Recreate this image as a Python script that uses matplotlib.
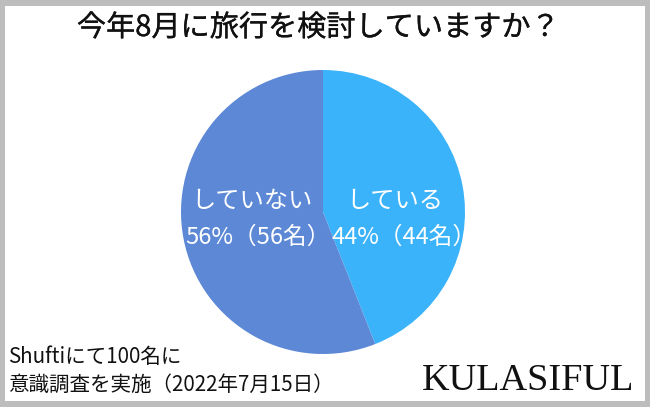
import matplotlib.pyplot as plt
import matplotlib.patheffects as pe
from matplotlib.patches import Rectangle

plt.rcParams['font.family'] = ['Noto Sans CJK JP', 'DejaVu Sans']

title = '今年8月に旅行を検討していますか？'
labels = ['している', 'していない']
values = [44, 56]
colors = ['#3bb3fa', '#5c88d6']
note = 'Shuftiにて100名に\n意識調査を実施（2022年7月15日）'
brand = 'KULASIFUL'

W, H = 650, 407
fig = plt.figure(figsize=(W / 100, H / 100), dpi=100)
fig.patch.set_facecolor('#bdbdbd')
ax = fig.add_axes([0, 0, 1, 1])

# white card inside grey frame
ax.add_patch(Rectangle((5, 6), W - 10, H - 12, facecolor='white', edgecolor='none', zorder=0))

cx, cy, r = 323, H - 212, 142
ax.pie(values, colors=colors, startangle=90, counterclock=False,
       center=(cx, cy), radius=r, frame=True,
       wedgeprops=dict(linewidth=0))
ax.set_xlim(0, W)
ax.set_ylim(0, H)
ax.set_aspect('equal')
ax.axis('off')

ax.text(W / 2 - 7, H - 28, title, ha='center', va='center', fontsize=21,
        color='#111111',
        path_effects=[pe.withStroke(linewidth=0.2, foreground='#111111')])

# slice labels
pos = {'している': (395, 404), 'していない': (252, 258)}
for lab, v in zip(labels, values):
    x1, x2 = pos[lab]
    ax.text(x1, H - 201, lab, ha='center', va='center', fontsize=17.5, color='white')
    ax.text(x2, H - 237, f'{v}%（{v}名）', ha='center', va='center',
            fontsize=17, color='white')

ax.text(8, H - 371, note, ha='left', va='center', fontsize=14.8, color='#111111',
        linespacing=1.3)
ax.text(528, H - 381, brand, ha='center', va='center', fontsize=27.5,
        family='Liberation Serif', color='#111111')

fig.savefig('out.png', dpi=100, facecolor=fig.get_facecolor())
